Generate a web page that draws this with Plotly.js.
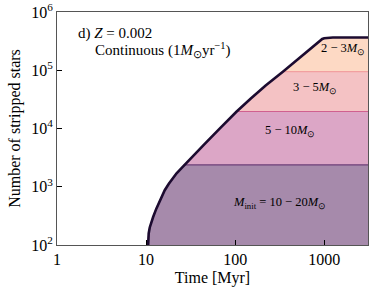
<!DOCTYPE html>
<html><head><meta charset="utf-8">
<script src="https://cdn.plot.ly/plotly-3.0.1.min.js"></script>
<style>html,body{margin:0;padding:0;background:#fff}#c{width:374px;height:291px}</style>
</head><body><div id="c"></div>
<script>
// Time [Myr] and total number of stripped stars
const time  = [10.4, 10.5, 10.7, 11, 11.5, 12, 13, 14, 15, 16.2, 18, 20, 22, 25, 27, 30, 35, 45, 67, 104, 150, 220, 346, 500, 700, 850, 950, 1000, 1100, 1250, 4000];
const total = [63, 100, 158, 200, 250, 302, 417, 537, 676, 871, 1122, 1396, 1702, 2089, 2370, 2800, 3570, 5320, 9980, 19600, 32700, 54500, 95000, 153000, 238000, 305000, 345000, 355000, 363000, 365000, 365000];
// Plateau levels of cumulative mass bins (10-20, 5-10, 3-5 Msun)
const levels = [2370, 19600, 95000];
const bandNames = ["10-20", "5-10", "3-5", "2-3"];
const fillColors = ["#a68aab", "#dca6c6", "#f4c2c4", "#fdd9c4"];
const edgeColors = ["#6b3f78", "#d0608f", "#f2a0a0", "#1c0b30"];
const xTicks = [1, 10, 100, 1000];
const yTicks = [1e2, 1e3, 1e4, 1e5, 1e6];
const yTickText = ["10<sup>2</sup>", "10<sup>3</sup>", "10<sup>4</sup>", "10<sup>5</sup>", "10<sup>6</sup>"];

const FONT = "Liberation Serif";
const traces = [];
traces.push({x: time, y: time.map(() => 1), mode: "lines", line: {width: 0}, hoverinfo: "skip", showlegend: false});
for (let i = 0; i < 4; i++) {
  const top = i < 3 ? total.map(v => Math.min(v, levels[i])) : total;
  traces.push({x: time, y: top, mode: "lines", fill: "tonexty", fillcolor: fillColors[i],
    line: {color: i < 3 ? edgeColors[i] : "rgba(0,0,0,0)", width: 1.2}, name: bandNames[i], showlegend: false});
}
traces.push({x: time, y: total, mode: "lines", line: {color: edgeColors[3], width: 2.6}, showlegend: false});

const ann = (x, y, text, size, xanchor) => ({x: x, y: y, xref: "x", yref: "y", text: text, showarrow: false,
  xanchor: xanchor || "center", yanchor: "middle", font: {family: FONT, size: size, color: "#000"}});
const M = "<i>M</i><sub>⊙</sub>";

const layout = {
  width: 374, height: 291,
  margin: {l: 57, r: 6, t: 12, b: 46},
  paper_bgcolor: "#fff", plot_bgcolor: "#fff",
  font: {family: FONT, size: 16, color: "#000"},
  xaxis: {type: "log", range: [0, Math.log10(3100)], tickvals: xTicks, ticktext: xTicks.map(String),
    ticks: "inside", ticklen: 5, tickcolor: "#000", showgrid: false, zeroline: false,
    showline: true, mirror: true, linecolor: "#555", linewidth: 1,
    title: {text: "Time [Myr]", font: {family: FONT, size: 16}, standoff: 4}, tickfont: {family: FONT, size: 16}},
  yaxis: {type: "log", range: [2, 6], tickvals: yTicks, ticktext: yTickText,
    ticks: "inside", ticklen: 5, tickcolor: "#000", showgrid: false, zeroline: false,
    showline: true, mirror: true, linecolor: "#555", linewidth: 1,
    title: {text: "Number of stripped stars", font: {family: FONT, size: 16}, standoff: 6}, tickfont: {family: FONT, size: 16}},
  annotations: [
    {xref: "paper", yref: "paper", x: (76 - 57) / 311, y: (244.7 - 33) / 232.7, xanchor: "left", yanchor: "middle", showarrow: false,
      text: "d) <i>Z</i> = 0.002", font: {family: FONT, size: 15, color: "#000"}},
    {xref: "paper", yref: "paper", x: (93 - 57) / 311, y: (244.7 - 50) / 232.7, xanchor: "left", yanchor: "middle", showarrow: false,
      text: "Continuous (1" + M + "yr<sup>−1</sup>)", font: {family: FONT, size: 15, color: "#000"}},
    ann(3.21, 5.357, "2 − 3" + M, 12.5),
    ann(2.895, 4.70, "3 − 5" + M, 12.5),
    ann(2.615, 3.96, "5 − 10" + M, 12.5),
    ann(2.50, 2.72, "<i>M</i><sub>init</sub> = 10 − 20" + M, 12.5)
  ]
};
Plotly.newPlot("c", traces, layout, {staticPlot: true, displayModeBar: false});
</script></body></html>
